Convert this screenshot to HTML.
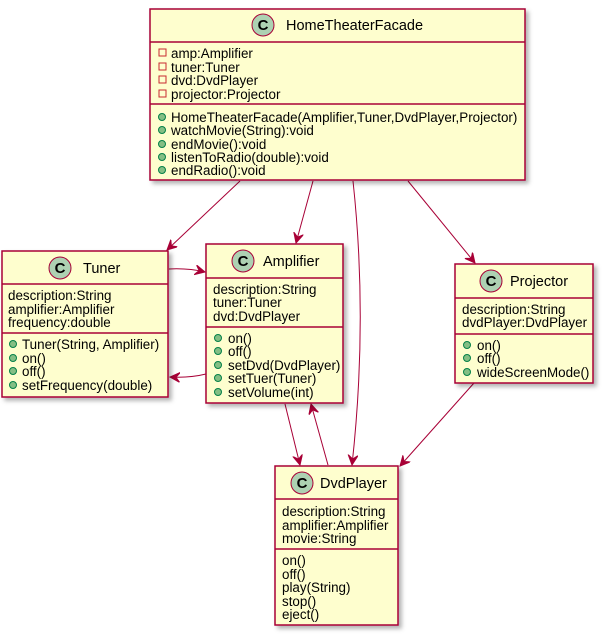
<!DOCTYPE html>
<html><head><meta charset="utf-8"><style>
html,body{margin:0;padding:0;background:#fff;}
svg{display:block;}
text{font-family:"Liberation Sans",sans-serif;font-size:13.4px;fill:#000;}
.t{font-size:14.5px;}
.b{fill:#FEFECE;stroke:#A80036;stroke-width:1.5;}
.d{stroke:#A80036;stroke-width:1.5;}
.e{fill:none;stroke:#A80036;stroke-width:1;}
.c{fill:#ADD1B2;stroke:#A80036;stroke-width:1;}
.cl{font-size:15px;font-weight:bold;}
.pv{fill:none;stroke:#C82930;stroke-width:1;}
.pb{fill:#84BE84;stroke:#038048;stroke-width:1;}
</style></head><body>
<svg width="606" height="635" viewBox="0 0 606 635" xmlns="http://www.w3.org/2000/svg">
<defs>
<filter id="sh" x="-5%" y="-5%" width="115%" height="115%"><feDropShadow dx="3" dy="3" stdDeviation="2" flood-color="#000" flood-opacity="0.3"/></filter>
<marker id="a" markerWidth="12" markerHeight="12" refX="10" refY="5" orient="auto" markerUnits="userSpaceOnUse"><path d="M0,0 L10,5 L0,10 L4,5 Z" fill="#A80036" stroke="#A80036"/></marker>
</defs>

<path class="e" marker-end="url(#a)" d="M240,181 L167,250"/>
<path class="e" marker-end="url(#a)" d="M313,181 L296,243"/>
<path class="e" marker-end="url(#a)" d="M353,181 Q368,320 352,465"/>
<path class="e" marker-end="url(#a)" d="M408,181 L475,263"/>
<path class="e" marker-end="url(#a)" d="M169,269 Q188,268 205,272"/>
<path class="e" marker-end="url(#a)" d="M206,374 Q190,378 170,377"/>
<path class="e" marker-end="url(#a)" d="M285,404 L300,465"/>
<path class="e" marker-end="url(#a)" d="M328,465 L311,404"/>
<path class="e" marker-end="url(#a)" d="M474,383 L400,466"/>

<g filter="url(#sh)"><rect class="b" x="150" y="9" width="375" height="171"/></g>
<line class="d" x1="150" y1="42" x2="525" y2="42"/>
<line class="d" x1="150" y1="104" x2="525" y2="104"/>
<circle class="c" cx="263" cy="25" r="11"/><text x="263" y="30" text-anchor="middle" class="cl">C</text>
<text x="286" y="30" class="t">HomeTheaterFacade</text>
<rect class="pv" x="159" y="49" width="7" height="7"/><text x="171" y="58">amp:Amplifier</text>
<rect class="pv" x="159" y="63" width="7" height="7"/><text x="171" y="72">tuner:Tuner</text>
<rect class="pv" x="159" y="76" width="7" height="7"/><text x="171" y="85">dvd:DvdPlayer</text>
<rect class="pv" x="159" y="90" width="7" height="7"/><text x="171" y="99">projector:Projector</text>
<circle class="pb" cx="162" cy="117" r="3.5"/><text x="171" y="122">HomeTheaterFacade(Amplifier,Tuner,DvdPlayer,Projector)</text>
<circle class="pb" cx="162" cy="130" r="3.5"/><text x="171" y="135">watchMovie(String):void</text>
<circle class="pb" cx="162" cy="144" r="3.5"/><text x="171" y="149">endMovie():void</text>
<circle class="pb" cx="162" cy="157" r="3.5"/><text x="171" y="162">listenToRadio(double):void</text>
<circle class="pb" cx="162" cy="170" r="3.5"/><text x="171" y="175">endRadio():void</text>

<g filter="url(#sh)"><rect class="b" x="2" y="251" width="166" height="146"/></g>
<line class="d" x1="2" y1="284" x2="168" y2="284"/>
<line class="d" x1="2" y1="333" x2="168" y2="333"/>
<circle class="c" cx="60" cy="268" r="11"/><text x="60" y="273" text-anchor="middle" class="cl">C</text>
<text x="83" y="273" class="t">Tuner</text>
<text x="8" y="300">description:String</text>
<text x="8" y="314">amplifier:Amplifier</text>
<text x="8" y="327">frequency:double</text>
<circle class="pb" cx="13" cy="344" r="3.5"/><text x="22" y="349">Tuner(String, Amplifier)</text>
<circle class="pb" cx="13" cy="358" r="3.5"/><text x="22" y="363">on()</text>
<circle class="pb" cx="13" cy="371" r="3.5"/><text x="22" y="376">off()</text>
<circle class="pb" cx="13" cy="385" r="3.5"/><text x="22" y="390">setFrequency(double)</text>

<g filter="url(#sh)"><rect class="b" x="206" y="244" width="137" height="159"/></g>
<line class="d" x1="206" y1="278" x2="343" y2="278"/>
<line class="d" x1="206" y1="327" x2="343" y2="327"/>
<circle class="c" cx="243" cy="261" r="11"/><text x="243" y="266" text-anchor="middle" class="cl">C</text>
<text x="263" y="266" class="t">Amplifier</text>
<text x="213" y="294">description:String</text>
<text x="213" y="307">tuner:Tuner</text>
<text x="213" y="321">dvd:DvdPlayer</text>
<circle class="pb" cx="218" cy="338" r="3.5"/><text x="228" y="343">on()</text>
<circle class="pb" cx="218" cy="351" r="3.5"/><text x="228" y="356">off()</text>
<circle class="pb" cx="218" cy="365" r="3.5"/><text x="228" y="370">setDvd(DvdPlayer)</text>
<circle class="pb" cx="218" cy="378" r="3.5"/><text x="228" y="383">setTuer(Tuner)</text>
<circle class="pb" cx="218" cy="392" r="3.5"/><text x="228" y="397">setVolume(int)</text>

<g filter="url(#sh)"><rect class="b" x="455" y="264" width="138" height="119"/></g>
<line class="d" x1="455" y1="298" x2="593" y2="298"/>
<line class="d" x1="455" y1="334" x2="593" y2="334"/>
<circle class="c" cx="491" cy="281" r="11"/><text x="491" y="286" text-anchor="middle" class="cl">C</text>
<text x="510" y="286" class="t">Projector</text>
<text x="462" y="314">description:String</text>
<text x="462" y="327">dvdPlayer:DvdPlayer</text>
<circle class="pb" cx="467" cy="345" r="3.5"/><text x="477" y="350">on()</text>
<circle class="pb" cx="467" cy="358" r="3.5"/><text x="477" y="363">off()</text>
<circle class="pb" cx="467" cy="372" r="3.5"/><text x="477" y="377">wideScreenMode()</text>

<g filter="url(#sh)"><rect class="b" x="275" y="466" width="123" height="159"/></g>
<line class="d" x1="275" y1="499" x2="398" y2="499"/>
<line class="d" x1="275" y1="549" x2="398" y2="549"/>
<circle class="c" cx="302" cy="483" r="11"/><text x="302" y="488" text-anchor="middle" class="cl">C</text>
<text x="320" y="488" class="t">DvdPlayer</text>
<text x="282" y="516">description:String</text>
<text x="282" y="530">amplifier:Amplifier</text>
<text x="282" y="543">movie:String</text>
<text x="282" y="565">on()</text>
<text x="282" y="579">off()</text>
<text x="282" y="592">play(String)</text>
<text x="282" y="606">stop()</text>
<text x="282" y="619">eject()</text>
</svg>
</body></html>
